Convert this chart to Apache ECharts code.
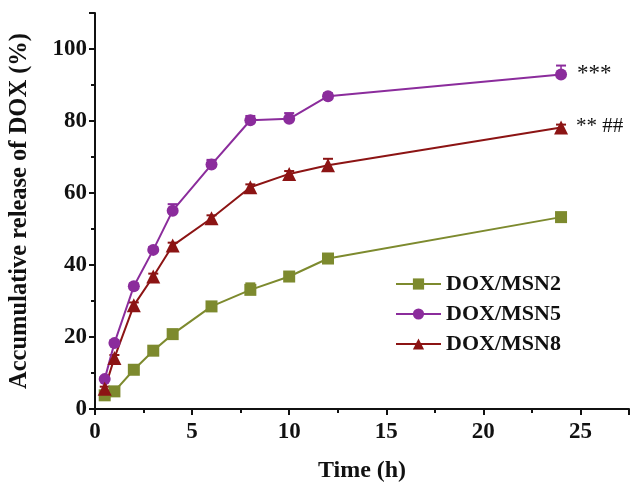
<!DOCTYPE html>
<html><head><meta charset="utf-8">
<script src="https://cdn.jsdelivr.net/npm/echarts@6/dist/echarts.min.js"></script>
<style>html,body{margin:0;padding:0;background:#fff}#c{width:630px;height:482px}</style>
</head><body><div id="c"></div>
<script>
var times = [0.5, 1, 2, 3, 4, 6, 8, 10, 12, 24];
var msn2 = [3.8, 4.9, 10.9, 16.2, 20.8, 28.5, 33.1, 36.8, 41.8, 53.3];
var msn5 = [8.3, 18.3, 34.1, 44.2, 55.1, 67.9, 80.2, 80.6, 86.9, 92.9];
var msn8 = [5.6, 14.2, 28.8, 36.8, 45.4, 53.0, 61.6, 65.3, 67.7, 78.2];
var err2 = [0.5, 0.5, 0.6, 0.6, 0.8, 0.8, 1.8, 0.8, 0.8, 0.8];
var err5 = [0.6, 0.8, 0.8, 0.8, 1.8, 1.3, 1.2, 1.6, 0.8, 2.5];
var err8 = [0.6, 0.8, 0.8, 0.8, 0.8, 0.8, 0.8, 0.8, 1.8, 0.8];
var names = ['DOX/MSN2', 'DOX/MSN5', 'DOX/MSN8'];
var colors = ['#7d8a2e', '#8b2c9c', '#8c1414'];
var symbols = ['rect', 'circle', 'triangle'];
var annotations = ['', '***', '** ##'];
var xTicks = [0, 5, 10, 15, 20, 25];
var yTicks = [0, 20, 40, 60, 80, 100];

var font = '"Liberation Serif", "Times New Roman", serif';
function pairs(v){ return times.map(function(t,i){ return [t, v[i]]; }); }
function errData(v, e){ return times.map(function(t,i){ return [t, v[i], v[i]+e[i]]; }); }

var vals = [msn2, msn5, msn8];
var errs = [err2, err5, err8];
var labelSizes = [20, 23, 21];
var series = [];
vals.forEach(function(v, k){
  series.push({
    type: 'custom', silent: true, z: 1,
    data: errData(v, errs[k]),
    renderItem: function(params, api){
      var p0 = api.coord([api.value(0), api.value(1)]);
      var p1 = api.coord([api.value(0), api.value(2)]);
      var w = 5;
      return {type:'group', children:[
        {type:'line', shape:{x1:p0[0],y1:p0[1],x2:p1[0],y2:p1[1]}, style:{stroke:colors[k], lineWidth:1.5}},
        {type:'line', shape:{x1:p1[0]-w,y1:p1[1],x2:p1[0]+w,y2:p1[1]}, style:{stroke:colors[k], lineWidth:2}}
      ]};
    }
  });
});
vals.forEach(function(v, k){
  series.push({
    name: names[k], type: 'line', z: 3,
    data: pairs(v),
    symbol: symbols[k], symbolSize: k === 2 ? 14 : 12,
    lineStyle: {color: colors[k], width: 2},
    itemStyle: {color: colors[k]},
    label: {
      show: annotations[k] !== '',
      position: 'right', distance: k === 2 ? 8 : 10, offset: [0, -1],
      formatter: function(p){ return p.dataIndex === times.length - 1 ? annotations[k] : ''; },
      fontFamily: font, fontSize: labelSizes[k], color: '#111', fontWeight: 'normal'
    }
  });
});

var chart = echarts.init(document.getElementById('c'));
chart.setOption({
  animation: false,
  backgroundColor: '#fff',
  grid: {left: 95, top: 13, right: 1, bottom: 73, outerBoundsMode: 'none', containLabel: false},
  legend: {
    data: names,
    orient: 'vertical', left: 390, top: 268, itemGap: 8,
    itemWidth: 45, itemHeight: 14,
    textStyle: {fontFamily: font, fontWeight: 'bold', fontSize: 22, color: '#111'}
  },
  xAxis: {
    type: 'value', min: 0, max: 27.5, interval: 5,
    name: 'Time (h)', nameLocation: 'middle', nameGap: 50,
    nameTextStyle: {fontFamily: font, fontWeight: 'bold', fontSize: 24, color: '#111'},
    axisLine: {show: true, lineStyle: {color: '#111', width: 2}},
    axisTick: {show: true, inside: false, length: 6, lineStyle: {color: '#111', width: 2}},
    minorTick: {show: true, splitNumber: 2, length: 4, lineStyle: {color: '#111', width: 2}},
    splitLine: {show: false},
    axisLabel: {fontFamily: font, fontWeight: 'bold', fontSize: 23, color: '#111', margin: 12,
      formatter: function(v){ return xTicks.indexOf(v) >= 0 ? String(v) : ''; }}
  },
  yAxis: {
    type: 'value', min: 0, max: 110, interval: 20,
    name: 'Accumulative release of DOX (%)', nameLocation: 'middle', nameGap: 63,
    nameTextStyle: {fontFamily: font, fontWeight: 'bold', fontSize: 24.5, color: '#111'},
    axisLine: {show: true, lineStyle: {color: '#111', width: 2}},
    axisTick: {show: true, inside: false, length: 6, lineStyle: {color: '#111', width: 2}},
    minorTick: {show: true, splitNumber: 2, length: 4, lineStyle: {color: '#111', width: 2}},
    splitLine: {show: false},
    axisLabel: {fontFamily: font, fontWeight: 'bold', fontSize: 23, color: '#111', margin: 8,
      formatter: function(v){ return yTicks.indexOf(v) >= 0 ? String(v) : ''; }}
  },
  series: series
});
</script></body></html>
